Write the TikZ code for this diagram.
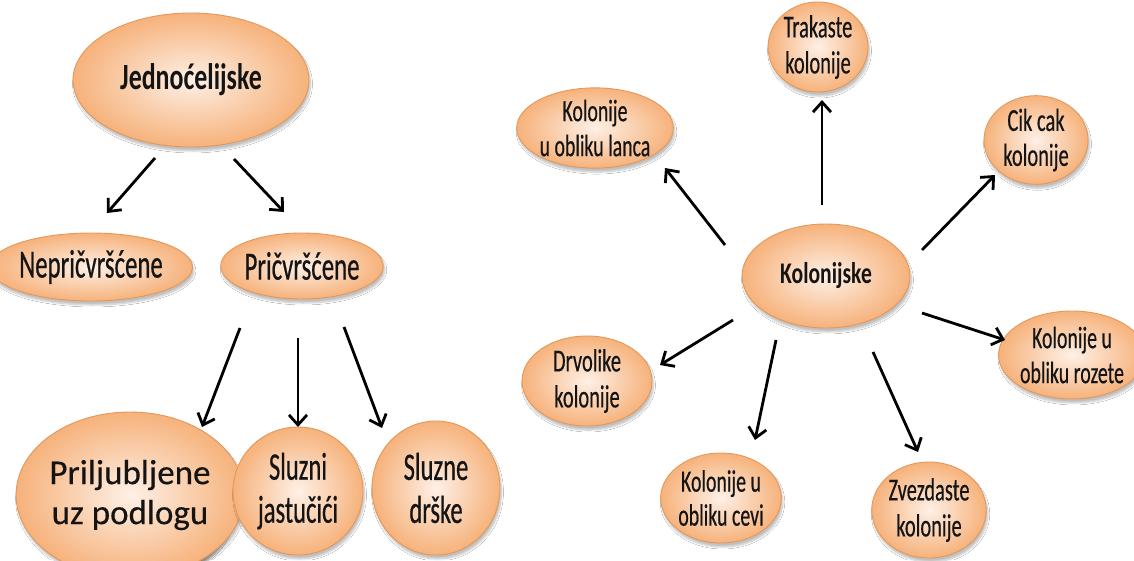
\documentclass[tikz,border=0pt]{standalone}
\usepackage{fontspec}
\setmainfont{Carlito}
\newfontfamily\fJ[FakeStretch=0.70]{Carlito}
\newfontfamily\fN[FakeStretch=0.62,FakeBold=0.5]{Carlito}
\newfontfamily\fP[FakeStretch=0.62,FakeBold=0.5]{Carlito}
\newfontfamily\fS[FakeStretch=0.63,FakeBold=0.5]{Carlito}
\newfontfamily\fR[FakeStretch=0.64,FakeBold=0.4]{Carlito}
\newfontfamily\fL[FakeBold=0.3]{Carlito}
\newfontfamily\fK[FakeStretch=0.72]{Carlito}
\usetikzlibrary{shapes.geometric,arrows.meta,shadows.blur}
\definecolor{innerc}{HTML}{FEF0E6}
\definecolor{outerc}{HTML}{F6B27B}
\definecolor{bordc}{HTML}{E3985A}
\tikzset{
  bub/.style={ellipse, draw=bordc, line width=0.9pt, inner color=innerc, outer color=outerc,
    inner sep=0pt, align=center, text=black!92,
    blur shadow={shadow xshift=1.5pt, shadow yshift=-4pt, shadow blur steps=6, shadow opacity=25}},
  arr/.style={line width=2.8pt, -{Straight Barb[length=10pt,width=18pt,line width=2.8pt]}},
}
\begin{document}
\begin{tikzpicture}[x=1pt,y=-1pt]
\useasboundingbox[fill=white] (0,0) rectangle (1134,560);
% left tree
\node[bub, minimum width=236pt, minimum height=134pt, font=\fJ\bfseries\fontsize{37}{40}\selectfont] (J) at (191,80) {Jednoćelijske};
\node[bub, minimum width=158pt, minimum height=68pt, font=\fN\fontsize{40}{44}\selectfont] (N) at (91,267) {Nepričvršćene};
\node[bub, minimum width=160pt, minimum height=66pt, font=\fP\fontsize{40}{44}\selectfont] (P) at (302,266) {Pričvršćene};
\node[bub, minimum width=200pt, minimum height=166pt] (PLb) at (134,499) {};
\node[bub, minimum width=200pt, minimum height=166pt, font=\fL\fontsize{35}{40}\selectfont] (PL) at (130,495) {Priljubljene\\uz podlogu};
\node[bub, minimum width=130pt, minimum height=128pt, font=\fS\fontsize{39}{43}\selectfont] (SJ) at (298,491) {Sluzni\\jastučići};
\node[bub, minimum width=128pt, minimum height=134pt, font=\fS\fontsize{39}{43}\selectfont] (SD) at (436,488) {Sluzne\\drške};
% right star
\node[bub, minimum width=168pt, minimum height=104pt, font=\fK\bfseries\fontsize{30}{33}\selectfont] (K) at (826,276) {Kolonijske};
\node[bub, minimum width=100pt, minimum height=88pt, font=\fR\fontsize{32}{36}\selectfont] (T) at (818,47) {Trakaste\\kolonije};
\node[bub, minimum width=122pt, minimum height=80pt, font=\fR\fontsize{31}{35}\selectfont] (L) at (595,128) {Kolonije\\u obliku lanca};
\node[bub, minimum width=104pt, minimum height=82pt, font=\fR\fontsize{32}{35}\selectfont] (C) at (1036,140) {Cik cak\\kolonije};
\node[bub, minimum width=124pt, minimum height=88pt, font=\fR\fontsize{31}{35}\selectfont] (R) at (1072,355) {Kolonije u\\obliku rozete};
\node[bub, minimum width=130pt, minimum height=78pt, font=\fR\fontsize{32}{36}\selectfont] (D) at (587,381) {Drvolike\\kolonije};
\node[bub, minimum width=104pt, minimum height=90pt, font=\fR\fontsize{31}{34}\selectfont] (V) at (721,498) {Kolonije u\\obliku cevi};
\node[bub, minimum width=104pt, minimum height=96pt, font=\fR\fontsize{32}{36}\selectfont] (Z) at (929,510) {Zvezdaste\\kolonije};
% arrow end points
\coordinate (jn1) at (155,158); \coordinate (jn2) at (107,213);
\coordinate (jp1) at (234,159); \coordinate (jp2) at (284,212);
\coordinate (pl1) at (240,328); \coordinate (pl2) at (202,427);
\coordinate (ps1) at (298,338); \coordinate (ps2) at (298,427);
\coordinate (pd1) at (344,327); \coordinate (pd2) at (382,428);
\coordinate (kl1) at (725,245); \coordinate (kl2) at (665,168);
\coordinate (kt1) at (822,205); \coordinate (kt2) at (822,100);
\coordinate (kc1) at (922,250); \coordinate (kc2) at (995,175);
\coordinate (kr1) at (922,313); \coordinate (kr2) at (1005,340);
\coordinate (kd1) at (733,320); \coordinate (kd2) at (660,365);
\coordinate (kv1) at (776,340); \coordinate (kv2) at (755,440);
\coordinate (kz1) at (873,352); \coordinate (kz2) at (918,452);
\foreach \a in {jn,jp,pl,ps,pd,kl,kt,kc,kr,kd,kv,kz}
  \draw[arr] (\a1) -- (\a2);
\end{tikzpicture}
\end{document}
